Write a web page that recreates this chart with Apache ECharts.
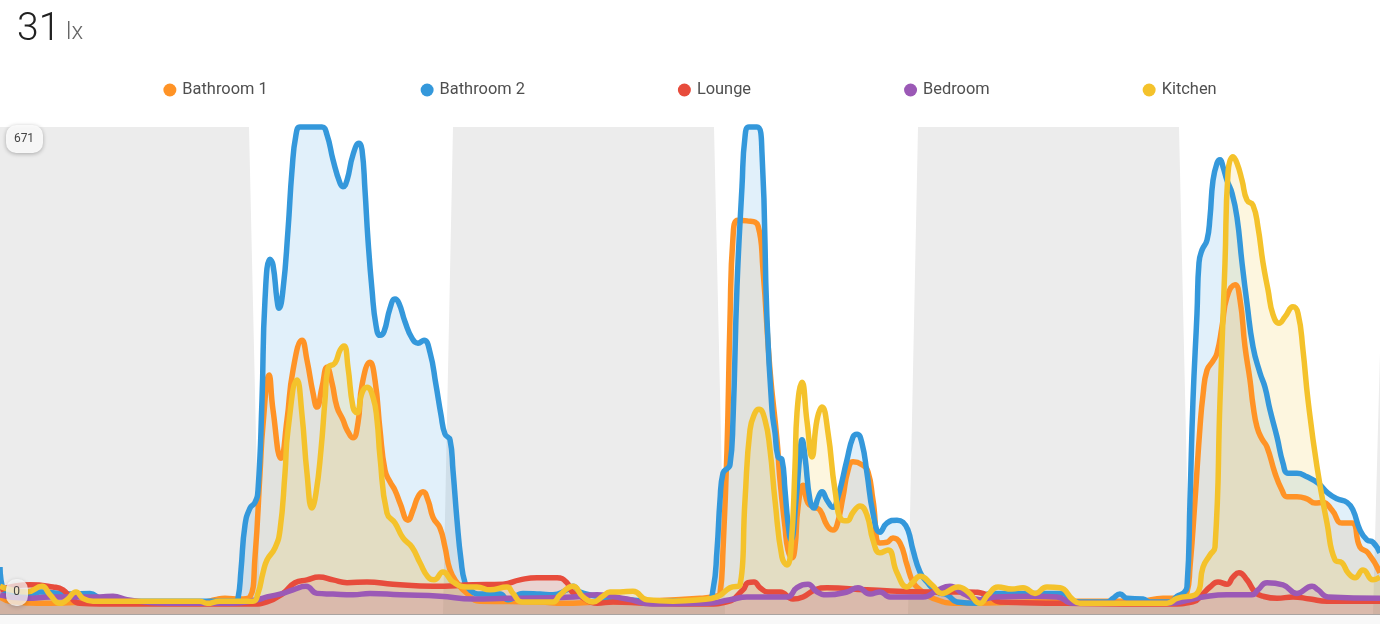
<![CDATA[<!DOCTYPE html>
<html>
<head>
<meta charset="UTF-8">
<title>Illuminance</title>
<script src="https://cdn.jsdelivr.net/npm/echarts@6/dist/echarts.min.js"></script>
<style>
html,body{margin:0;padding:0;background:#fff;}
#chart{width:1380px;height:624px;}
</style>
</head>
<body>
<div id="chart"></div>
<script>
// every series is [minute, lux], read off the picture
var bathroom1 = [[0,10],[30,4],[150,1],[300,3],[615,3],[645,6],[675,8],[720,7],[750,10],[765,66],[780,184],[789,252],[807,322],[819,273],[843,205],[861,259],[879,329],[906,371],[921,343],[939,297],[951,277],[966,305],[981,333],[996,311],[1011,277],[1029,259],[1041,245],[1059,234],[1074,255],[1086,308],[1110,340],[1125,315],[1140,245],[1155,188],[1170,172],[1185,160],[1200,142],[1224,118],[1239,132],[1254,151],[1269,158],[1284,146],[1299,122],[1320,107],[1335,80],[1350,48],[1371,30],[1401,15],[1440,4],[1620,3],[1689,1],[1800,3],[1920,4],[2100,8],[2145,11],[2160,15],[2169,76],[2181,217],[2190,400],[2199,516],[2214,540],[2241,539],[2274,532],[2289,470],[2310,329],[2331,231],[2340,174],[2355,108],[2364,76],[2376,65],[2385,80],[2394,136],[2409,167],[2424,142],[2445,136],[2460,132],[2481,111],[2499,104],[2511,111],[2529,151],[2544,188],[2559,200],[2586,196],[2604,186],[2619,146],[2640,86],[2661,87],[2679,93],[2700,86],[2721,55],[2739,31],[2760,20],[2799,8],[2871,1],[3231,4],[3420,4],[3489,8],[3519,8],[3561,17],[3570,52],[3585,146],[3600,249],[3609,294],[3621,329],[3639,342],[3651,353],[3666,390],[3681,432],[3705,449],[3720,428],[3735,362],[3750,315],[3759,280],[3771,249],[3786,232],[3801,221],[3825,184],[3846,160],[3861,151],[3891,151],[3921,148],[3945,142],[3969,143],[3996,132],[4026,114],[4056,114],[4080,80],[4104,72],[4140,44]];
var bathroom2 = [[0,52],[24,14],[90,13],[120,17],[210,14],[270,15],[300,8],[360,4],[705,4],[714,8],[723,48],[735,111],[750,135],[765,143],[774,160],[786,287],[795,428],[810,485],[819,477],[831,428],[837,416],[849,442],[864,526],[876,610],[888,660],[900,671],[930,671],[966,671],[981,660],[999,625],[1020,592],[1029,587],[1041,596],[1059,632],[1077,648],[1086,639],[1095,582],[1104,512],[1116,442],[1128,392],[1140,378],[1152,383],[1170,416],[1185,429],[1197,423],[1215,397],[1236,374],[1254,367],[1272,371],[1290,354],[1308,308],[1323,266],[1335,239],[1350,231],[1359,188],[1371,118],[1383,62],[1395,30],[1410,20],[1434,14],[1470,14],[1500,14],[1524,6],[1569,15],[1620,14],[1659,13],[1701,20],[1719,25],[1740,17],[1770,13],[1800,10],[1821,6],[1881,6],[1941,4],[2121,4],[2139,20],[2151,76],[2160,146],[2169,184],[2190,196],[2199,259],[2211,446],[2226,587],[2235,657],[2247,671],[2271,671],[2286,634],[2301,400],[2316,273],[2325,241],[2334,207],[2346,203],[2355,160],[2364,114],[2373,90],[2388,146],[2400,212],[2406,231],[2415,207],[2430,146],[2442,135],[2454,149],[2466,158],[2481,146],[2499,136],[2514,151],[2541,203],[2559,235],[2571,239],[2586,226],[2601,184],[2619,128],[2640,101],[2661,114],[2691,118],[2709,115],[2724,104],[2739,76],[2760,45],[2781,31],[2811,17],[2841,13],[2871,3],[2931,1],[2970,15],[3051,15],[3189,15],[3219,3],[3321,3],[3339,8],[3360,14],[3381,8],[3429,7],[3450,3],[3510,3],[3531,11],[3549,15],[3561,24],[3570,146],[3579,287],[3591,409],[3597,480],[3606,498],[3621,512],[3630,544],[3639,596],[3651,620],[3660,625],[3669,615],[3681,596],[3696,578],[3711,544],[3726,480],[3741,423],[3759,362],[3780,325],[3795,305],[3810,273],[3831,235],[3849,198],[3864,184],[3891,184],[3921,179],[3954,170],[3984,156],[4011,148],[4041,143],[4059,132],[4080,104],[4101,90],[4119,87],[4140,72]];
var lounge = [[0,20],[90,27],[159,24],[189,20],[210,10],[240,1],[300,0],[759,0],[801,3],[849,15],[885,30],[921,34],[957,38],[999,34],[1041,30],[1101,31],[1179,28],[1299,25],[1419,27],[1509,28],[1560,34],[1611,37],[1671,37],[1701,30],[1716,17],[1740,11],[1791,1],[1839,3],[1941,1],[2121,0],[2181,3],[2229,20],[2244,30],[2262,31],[2280,23],[2304,17],[2340,17],[2379,7],[2409,10],[2445,20],[2481,23],[2601,20],[2799,17],[2901,17],[2961,13],[3000,3],[3201,1],[3510,0],[3579,3],[3606,13],[3630,24],[3654,31],[3681,28],[3699,38],[3717,44],[3741,34],[3765,17],[3789,11],[3831,8],[3879,10],[3930,7],[3981,4],[4140,4]];
var bedroom = [[0,13],[81,8],[150,10],[300,10],[339,11],[381,6],[501,1],[699,1],[771,6],[801,10],[849,15],[879,20],[918,25],[951,15],[999,14],[1059,13],[1110,15],[1200,13],[1320,11],[1419,7],[1521,8],[1719,10],[1791,13],[1881,7],[1959,0],[2121,1],[2190,6],[2241,10],[2361,10],[2391,23],[2424,28],[2451,17],[2481,13],[2541,17],[2574,23],[2610,14],[2640,17],[2670,10],[2769,10],[2814,20],[2850,25],[2889,15],[2940,6],[2985,10],[3099,11],[3171,10],[3219,1],[3510,1],[3570,6],[3609,10],[3681,13],[3756,13],[3774,20],[3801,30],[3849,27],[3891,15],[3936,25],[3954,20],[3984,10],[4140,8]];
var kitchen = [[0,25],[81,17],[126,25],[150,13],[180,1],[201,6],[228,17],[249,8],[279,4],[600,4],[621,1],[660,4],[759,4],[774,15],[789,44],[801,62],[825,79],[840,104],[855,184],[864,245],[891,315],[906,266],[921,184],[936,135],[948,156],[963,217],[975,287],[984,332],[1005,339],[1020,357],[1032,363],[1044,333],[1059,277],[1071,269],[1086,297],[1101,305],[1119,291],[1131,259],[1140,207],[1161,128],[1185,114],[1209,93],[1236,80],[1260,58],[1284,38],[1302,34],[1329,45],[1359,31],[1401,24],[1431,24],[1470,20],[1521,24],[1539,15],[1566,3],[1659,3],[1680,13],[1719,25],[1749,10],[1779,3],[1809,11],[1830,17],[1860,17],[1899,18],[1941,6],[2019,4],[2100,6],[2151,10],[2190,23],[2220,27],[2235,146],[2250,245],[2265,269],[2277,274],[2295,259],[2310,217],[2325,146],[2346,66],[2361,55],[2373,80],[2385,193],[2391,269],[2406,312],[2421,257],[2436,207],[2451,259],[2466,277],[2484,241],[2505,160],[2526,118],[2541,117],[2559,129],[2580,138],[2601,125],[2619,90],[2640,72],[2664,76],[2691,44],[2721,24],[2739,31],[2760,39],[2796,27],[2826,15],[2874,24],[2904,17],[2940,1],[2964,13],[2994,24],[3036,21],[3069,23],[3105,15],[3141,24],[3180,23],[3219,6],[3240,1],[3501,1],[3531,8],[3591,15],[3609,52],[3630,69],[3645,80],[3660,287],[3675,480],[3684,606],[3699,629],[3711,620],[3726,596],[3741,568],[3759,561],[3774,530],[3789,480],[3804,442],[3819,407],[3837,395],[3855,404],[3879,418],[3894,409],[3909,357],[3924,287],[3951,193],[3981,114],[4005,62],[4026,58],[4044,44],[4065,37],[4089,48],[4119,34],[4140,38]];
// grey night shading behind the lines
var nightShade = [[0,671],[747,671],[780,-14],[1329,-14],[1359,671],[2142,671],[2175,-14],[2724,-14],[2754,671],[3537,671],[3570,-14],[4119,-14],[4140,354]];

var seriesNames = ['Bathroom 1', 'Bathroom 2', 'Lounge', 'Bedroom', 'Kitchen'];
var seriesData = [bathroom1, bathroom2, lounge, bedroom, kitchen];
var seriesColors = ['#ff9326', '#3498db', '#e74c3c', '#9b59b6', '#f4c22b'];
var maxLabel = '671';
var minLabel = '0';

var series = [{
	name: 'Night',
	type: 'line',
	data: nightShade,
	symbol: 'none',
	silent: true,
	lineStyle: { width: 0 },
	itemStyle: { color: '#ececec' },
	areaStyle: { color: '#ececec', opacity: 1, origin: 'start' }
}];
seriesNames.forEach(function (name, i) {
	series.push({
		name: name,
		type: 'line',
		data: seriesData[i],
		symbol: 'none',
		smooth: 0.5,
		clip: false,
		lineStyle: { width: 5.5, color: seriesColors[i], join: 'round' },
		itemStyle: { color: seriesColors[i] },
		areaStyle: { color: seriesColors[i], opacity: 0.15, origin: 'start' }
	});
});

var myChart = echarts.init(document.getElementById('chart'));
myChart.setOption({
	animation: false,
	backgroundColor: '#fff',
	textStyle: { fontFamily: 'Roboto' },
	title: {
		left: 12,
		top: 6,
		text: '31',
		textStyle: { fontFamily: 'Roboto', fontWeight: 300, fontSize: 39, color: '#212121' }
	},
	legend: {
		data: seriesNames,
		top: 77,
		left: 'center',
		icon: 'circle',
		itemWidth: 13,
		itemHeight: 13,
		itemGap: 153,
		textStyle: { fontFamily: 'Roboto', fontSize: 16.4, color: '#4f4f4f', padding: [0, 0, 0, 1] }
	},
	grid: { left: 0, right: 0, top: 127, bottom: 10 },
	xAxis: { type: 'value', min: 0, max: 4140, show: false },
	yAxis: { type: 'value', min: -14, max: 671, show: false },
	series: series,
	graphic: [
		{
			type: 'text', z: 101, x: 66, y: 33,
			style: { text: 'lx', fontFamily: 'Roboto', fontWeight: 300, fontSize: 24, fill: '#666666', verticalAlign: 'middle' }
		},
		{ type: 'rect', z: 100, shape: { x: 0, y: 615, width: 1380, height: 9 }, style: { fill: '#f8f8f8' } },
		{ type: 'rect', z: 100, shape: { x: 0, y: 614, width: 1380, height: 1 }, style: { fill: '#a9a3a0' } },
		{
			type: 'rect', z: 100,
			shape: { x: 6, y: 125, width: 37, height: 28, r: 10 },
			style: { fill: 'rgba(250,250,250,0.95)', shadowBlur: 4, shadowColor: 'rgba(0,0,0,0.3)', shadowOffsetY: 1 }
		},
		{
			type: 'text', z: 101, x: 24, y: 139,
			style: { text: maxLabel, fontFamily: 'Roboto', fontSize: 12, fill: '#444', align: 'center', verticalAlign: 'middle' }
		},
		{
			type: 'rect', z: 100,
			shape: { x: 6, y: 579, width: 22, height: 27, r: 10 },
			style: { fill: 'rgba(250,250,250,0.75)', shadowBlur: 4, shadowColor: 'rgba(0,0,0,0.25)', shadowOffsetY: 1 }
		},
		{
			type: 'text', z: 101, x: 16.5, y: 592,
			style: { text: minLabel, fontFamily: 'Roboto', fontSize: 12, fill: '#444', align: 'center', verticalAlign: 'middle' }
		}
	]
});
</script>
</body>
</html>
]]>
